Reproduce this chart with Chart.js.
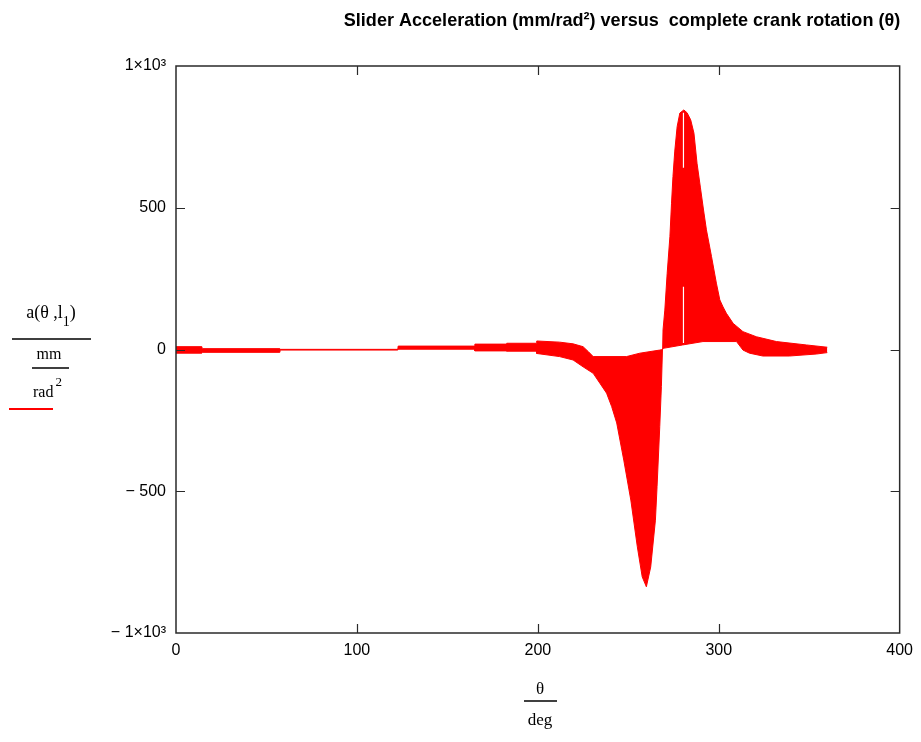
<!DOCTYPE html>
<html>
<head>
<meta charset="utf-8">
<script src="https://cdn.jsdelivr.net/npm/chart.js@4.4.0/dist/chart.umd.min.js"></script>
<style>
  html, body { margin: 0; padding: 0; background: #fff; }
  #wrap { width: 921px; height: 742px; }
</style>
</head>
<body>
<div id="wrap"><canvas id="chart" width="921" height="742"></canvas></div>
<script>
// envelope of the oscillating acceleration trace (theta in deg)
const upperTheta = [0, 14.3, 14.5, 57.4, 57.6, 122.6, 122.8, 165, 165.2, 182.6, 182.8, 199.2, 199.4, 212, 219.5, 225, 228, 230.6,
  249, 256.4, 267.4, 269, 269.2, 270.2, 271.5, 273, 273.9, 274.7, 275.7, 277, 278.5, 280.7, 282.5, 284.5, 286.3, 288,
  289.9, 291.6, 293.2, 296, 298.7, 300.6, 302.4, 304.2, 308, 313.4, 320.8, 331.9, 348.5, 360];
const upperValue = [10, 10, 3, 3, 0.5, 0.5, 12, 12, 19, 19, 22, 22, 30, 26, 20, 10, -8, -25,
  -25, -13, -2, 0, 69, 139, 269, 398, 516, 610, 700, 786, 834, 845, 835, 810, 763, 657,
  570, 492, 422, 328, 234, 175, 150, 128, 92, 63, 45, 28, 16, 8];

const lowerTheta = [0, 14.3, 14.5, 57.4, 57.6, 122.6, 122.8, 165, 165.2, 182.6, 182.8, 199.2, 199.4, 212, 219.5, 225, 230.6,
  234.3, 238, 240.8, 243.6, 247.5, 251.4, 255, 257.7, 260, 262.4, 265, 265.9, 267.4, 268.3, 268.9, 269.2, 280, 291.3,
  309.8, 313.4, 317, 324.4, 339, 353.9, 360];
const lowerValue = [-13, -13, -10, -10, -2, -2, 1, 1, -5, -5, -6, -6, -14, -25, -37, -61, -84,
  -119, -154, -201, -259, -390, -531, -696, -802, -837, -767, -602, -484, -272, -131, 0, 4, 16, 28,
  28, -2, -13, -23, -23, -16, -11];

// thin white gap in the positive lobe
const gapTheta = [280.5, 280.5, 280.5, 280.5, 280.5];
const gapValue = [23, 221, null, 641, 835];

const xTicks = [0, 100, 200, 300, 400];
const yTicks = [-1000, -500, 0, 500, 1000];
const yTickLabels = ['\u2212 1\u00d710\u00b3', '\u2212 500', '0', '500', '1\u00d710\u00b3'];

const SANS = "'Liberation Sans Narrow', 'Arial Narrow', 'Liberation Sans', Arial, sans-serif";
const SERIF = "'Liberation Serif', 'Times New Roman', serif";
const RED = '#ff0000';

const toPoints = (xs, ys) => xs.map((t, i) => ({ x: t, y: ys[i] }));

const frame = {
  id: 'frame',
  afterDatasetsDraw(chart) {
    const { ctx, chartArea: a, scales: { x, y } } = chart;
    ctx.save();
    ctx.strokeStyle = '#2a2a2a';
    ctx.lineWidth = 1.5;
    ctx.strokeRect(a.left, a.top, a.right - a.left, a.bottom - a.top);
    ctx.beginPath();
    xTicks.slice(1, -1).forEach(v => {
      const px = Math.round(x.getPixelForValue(v)) + 0.5;
      ctx.moveTo(px, a.bottom); ctx.lineTo(px, a.bottom - 9);
      ctx.moveTo(px, a.top); ctx.lineTo(px, a.top + 9);
    });
    yTicks.slice(1, -1).forEach(v => {
      const py = Math.round(y.getPixelForValue(v)) + 0.5;
      ctx.moveTo(a.left, py); ctx.lineTo(a.left + 9, py);
      ctx.moveTo(a.right, py); ctx.lineTo(a.right - 9, py);
    });
    ctx.lineWidth = 1.2;
    ctx.stroke();
    ctx.restore();
  },
  afterDraw(chart) {
    const { ctx } = chart;
    ctx.save();
    ctx.fillStyle = '#000';
    ctx.strokeStyle = '#000';
    ctx.textBaseline = 'alphabetic';

    // title, slightly condensed like the original
    ctx.save();
    ctx.font = 'bold 19px ' + SANS;
    ctx.textAlign = 'center';
    ctx.translate(622, 26);
    ctx.scale(0.95, 1);
    ctx.fillText('Slider Acceleration (mm/rad\u00b2) versus  complete crank rotation (\u03b8)', 0, 0);
    ctx.restore();

    // y axis label as a stacked fraction
    ctx.textAlign = 'left';
    ctx.font = '18px ' + SERIF;
    const p1 = 'a(\u03b8 ,l';
    const w1 = ctx.measureText(p1).width;
    ctx.font = '14px ' + SERIF;
    const w2 = ctx.measureText('1').width;
    ctx.font = '18px ' + SERIF;
    const w3 = ctx.measureText(')').width;
    const sx = 51 - (w1 + w2 + w3) / 2;
    ctx.fillText(p1, sx, 318);
    ctx.font = '14px ' + SERIF;
    ctx.fillText('1', sx + w1, 326);
    ctx.font = '18px ' + SERIF;
    ctx.fillText(')', sx + w1 + w2, 318);

    ctx.lineWidth = 1.5;
    ctx.beginPath();
    ctx.moveTo(12, 339); ctx.lineTo(91, 339);
    ctx.moveTo(32, 368); ctx.lineTo(69, 368);
    ctx.stroke();

    ctx.font = '16px ' + SERIF;
    ctx.textAlign = 'center';
    ctx.fillText('mm', 49, 359);
    ctx.textAlign = 'left';
    const rw = ctx.measureText('rad').width;
    ctx.fillText('rad', 33, 397);
    ctx.font = '13px ' + SERIF;
    ctx.fillText('2', 33 + rw + 2, 386);

    ctx.strokeStyle = RED;
    ctx.lineWidth = 2;
    ctx.beginPath();
    ctx.moveTo(9, 409); ctx.lineTo(53, 409);
    ctx.stroke();

    // x axis label
    ctx.strokeStyle = '#000';
    ctx.lineWidth = 1.5;
    ctx.textAlign = 'center';
    ctx.font = '17px ' + SERIF;
    ctx.fillText('\u03b8', 540, 694);
    ctx.beginPath();
    ctx.moveTo(524, 701); ctx.lineTo(557, 701);
    ctx.stroke();
    ctx.fillText('deg', 540, 725);
    ctx.restore();
  }
};

new Chart(document.getElementById('chart'), {
  type: 'line',
  data: {
    datasets: [
      {
        label: 'gap',
        data: toPoints(gapTheta, gapValue),
        borderColor: '#ffffff',
        borderWidth: 1.2,
        pointRadius: 0,
        fill: false,
        spanGaps: false,
      },
      {
        label: 'upper',
        data: toPoints(upperTheta, upperValue),
        borderColor: RED,
        backgroundColor: RED,
        borderWidth: 1,
        pointRadius: 0,
        tension: 0,
        fill: '+1',
      },
      {
        label: 'lower',
        data: toPoints(lowerTheta, lowerValue),
        borderColor: RED,
        borderWidth: 1,
        pointRadius: 0,
        tension: 0,
        fill: false,
      },
    ],
  },
  options: {
    responsive: false,
    animation: false,
    layout: { padding: { top: 66, right: 21, left: 0, bottom: 0 } },
    plugins: { legend: { display: false }, tooltip: { enabled: false }, title: { display: false } },
    scales: {
      x: {
        type: 'linear', min: 0, max: 400,
        afterBuildTicks: s => { s.ticks = xTicks.map(v => ({ value: v })); },
        afterFit: s => { s.height = 109; },
        grid: { display: false, drawTicks: false },
        border: { display: false },
        ticks: { color: '#000', padding: 8, maxRotation: 0, font: { family: SANS, size: 16 } },
      },
      y: {
        type: 'linear', min: -1000, max: 1000,
        afterBuildTicks: s => { s.ticks = yTicks.map(v => ({ value: v })); },
        afterFit: s => { s.width = 176; },
        grid: { display: false, drawTicks: false },
        border: { display: false },
        ticks: {
          color: '#000', padding: 10, font: { family: SANS, size: 16 },
          callback: v => yTickLabels[yTicks.indexOf(v)],
        },
      },
    },
  },
  plugins: [frame],
});
</script>
</body>
</html>
